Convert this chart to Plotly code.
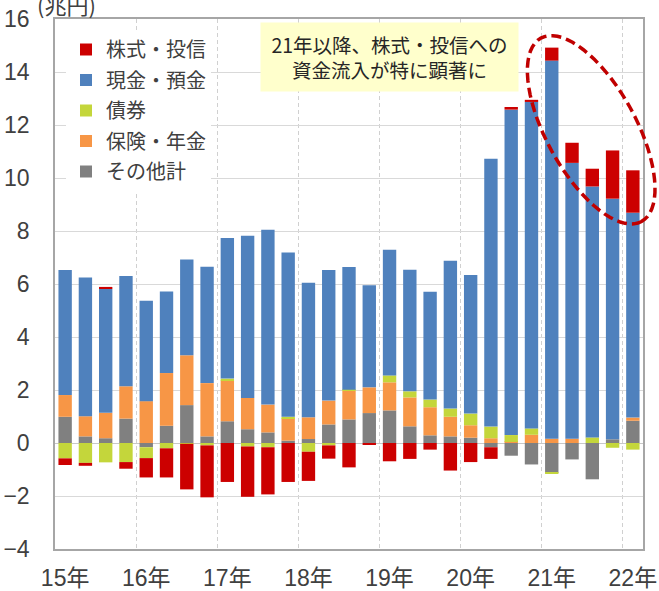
import math
import plotly.graph_objects as go

# ---------------- data (兆円) ----------------
quarters = ["15Q1", "15Q2", "15Q3", "15Q4", "16Q1", "16Q2", "16Q3", "16Q4",
            "17Q1", "17Q2", "17Q3", "17Q4", "18Q1", "18Q2", "18Q3", "18Q4",
            "19Q1", "19Q2", "19Q3", "19Q4", "20Q1", "20Q2", "20Q3", "20Q4",
            "21Q1", "21Q2", "21Q3", "21Q4", "22Q1"]

other = [0.99, 0.25, 0.18, 0.92, -0.16, 0.65, 1.43, 0.25, 0.82, 0.52, 0.40, 0.09, 0.15, 0.70,
         0.89, 1.13, 1.23, 0.63, 0.29, 0.25, 0.20, -0.16, -0.48, -0.81, -1.13, -0.62, -1.37, 0.14, 0.84]
insurance = [0.82, 0.76, 0.96, 1.22, 1.58, 1.99, 1.88, 2.01, 1.54, 1.18, 1.05, 0.84, 0.82, 0.90,
             1.08, 0.97, 1.06, 1.09, 1.06, 0.74, 0.47, 0.18, 0.04, 0.31, 0.16, 0.16, 0.0, 0.0, 0.12]
bonds = [-0.58, -0.75, -0.73, -0.72, -0.41, -0.20, -0.03, -0.09, 0.07, -0.13, -0.16, 0.06, -0.33, -0.09,
         0.04, 0.0, 0.26, 0.23, 0.29, 0.31, 0.44, 0.44, 0.26, 0.24, -0.02, 0.0, 0.21, -0.18, -0.25]
deposits = [4.72, 5.24, 4.67, 4.16, 3.79, 3.08, 3.61, 4.39, 5.31, 6.12, 6.60, 6.20, 5.08, 4.93,
            4.63, 3.85, 4.74, 4.59, 4.07, 5.58, 5.23, 10.11, 12.28, 12.32, 14.27, 10.41, 9.47, 9.08, 7.73]
stocks = [-0.25, -0.11, 0.08, -0.25, -0.73, -1.10, -1.72, -1.96, -1.47, -1.90, -1.78, -1.47, -1.10, -0.50,
          -0.92, -0.06, -0.69, -0.60, -0.25, -1.04, -0.72, -0.44, 0.10, 0.08, 0.49, 0.76, 0.67, 1.82, 1.60]

year_labels = ["15年", "16年", "17年", "18年", "19年", "20年", "21年", "22年"]

# stacking order (bottom -> top); legend shows the reverse
series = [
    ("その他計", other, "#808080"),
    ("保険・年金", insurance, "#F79646"),
    ("債券", bonds, "#C4D63B"),
    ("現金・預金", deposits, "#4F81BD"),
    ("株式・投信", stocks, "#CC0000"),
]

# ---------------- figure ----------------
W, H = 659, 591
ML, MR, MT, MB = 55, 16, 19, 42
PW, PH = W - ML - MR, H - MT - MB

FONT = "Liberation Sans, Arial, Noto Sans CJK JP, sans-serif"
TXT = "#404040"

xpos = list(range(len(quarters)))

fig = go.Figure()
n_series = len(series)
for k, (name, vals, col) in enumerate(series):
    fig.add_trace(go.Bar(
        x=xpos, y=vals, name=name, legendgroup=name,
        legendrank=(n_series - k) * 100,
        marker=dict(color=col, line=dict(width=0)),
        hovertext=quarters,
    ))

# tick positions derived from categories
year_ticks = [i for i, q in enumerate(quarters) if q.endswith("Q1")]
boundaries = [t - 0.5 for t in year_ticks[1:]]


def px2paper(px, py):
    return (px - ML) / PW, (H - MB - py) / PH


# rotated dashed ellipse (highlight)
cx, cy, a, b, th = 591.2, 129.8, 104.6, 44.8, math.radians(61.25)
pts = []
for k in range(73):
    t = 2 * math.pi * k / 72
    ex = cx + a * math.cos(t) * math.cos(th) - b * math.sin(t) * math.sin(th)
    ey = cy + a * math.cos(t) * math.sin(th) + b * math.sin(t) * math.cos(th)
    pts.append(px2paper(ex, ey))
path = "M " + " L ".join(f"{x:.5f},{y:.5f}" for x, y in pts) + " Z"

fig.add_shape(type="path", path=path, xref="paper", yref="paper",
              line=dict(color="#C00000", width=3.5, dash="10px,5px"), layer="above")

ax, ay = px2paper(389.5, 57)
fig.add_annotation(
    x=ax, y=ay, xref="paper", yref="paper", xanchor="center", yanchor="middle",
    text="21年以降、株式・投信への<br>資金流入が特に顕著に", showarrow=False,
    font=dict(family="Noto Sans CJK JP, sans-serif", size=19.5, color="#262626"),
    bgcolor="#FFFFCC", width=253, height=64, borderpad=2, align="center",
)

ux, uy = px2paper(35, 4)
fig.add_annotation(
    x=ux, y=uy, xref="paper", yref="paper", xanchor="left", yanchor="middle",
    text="(兆円)", showarrow=False,
    font=dict(family="Noto Sans CJK JP, sans-serif", size=22, color=TXT),
)

lx, ly = px2paper(66, 30)
fig.update_layout(
    width=W, height=H,
    margin=dict(l=ML, r=MR, t=MT, b=MB, autoexpand=False),
    paper_bgcolor="white", plot_bgcolor="white",
    barmode="relative", bargap=0.34,
    font=dict(family=FONT, color=TXT),
    showlegend=True,
    legend=dict(x=lx, y=ly, xanchor="left", yanchor="top",
                traceorder="grouped", tracegroupgap=1.5,
                bgcolor="white", borderwidth=0,
                font=dict(family="Noto Sans CJK JP, sans-serif", size=20, color=TXT)),
    xaxis=dict(
        range=[-0.5, len(quarters) - 0.5],
        tickmode="array", tickvals=year_ticks, ticktext=year_labels,
        showgrid=False, zeroline=False,
        showline=True, mirror=True, linecolor="#A6A6A6", linewidth=1.5,
        ticks="", ticklabelstandoff=8,
        tickfont=dict(size=23, color=TXT, family="Liberation Sans, Noto Sans CJK JP, sans-serif"),
        minor=dict(tickmode="array", tickvals=boundaries, showgrid=True,
                   gridcolor="#D0D0D0", griddash="4px,3px", gridwidth=1, ticks=""),
        fixedrange=True, automargin=False,
    ),
    yaxis=dict(
        range=[-4, 16], tickmode="linear", tick0=0, dtick=2,
        showgrid=True, gridcolor="#D9D9D9", gridwidth=1,
        zeroline=True, zerolinecolor="#C8C8C8", zerolinewidth=1.2,
        showline=True, mirror=True, linecolor="#A6A6A6", linewidth=1.5,
        ticks="", ticklabelstandoff=19,
        tickfont=dict(size=23, color=TXT, family="Liberation Sans, sans-serif"),
        fixedrange=True, automargin=False,
    ),
)

# remove the browser's default page margin so the figure sits at (0, 0)
fig.write_html("out.html", config={"displayModeBar": False},
               post_script="document.body.style.margin='0';")
